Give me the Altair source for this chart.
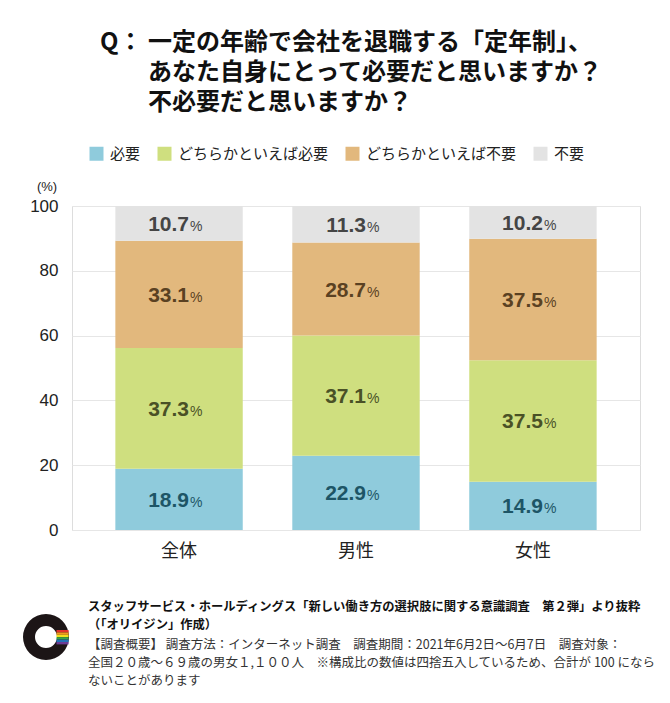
import altair as alt
import pandas as pd

JP = "Noto Sans CJK JP"
NUMF = "Liberation Sans"

groups = ["全体", "男性", "女性"]
categories = ["必要", "どちらかといえば必要", "どちらかといえば不要", "不要"]
need = [18.9, 22.9, 14.9]
rather_need = [37.3, 37.1, 37.5]
rather_unneeded = [33.1, 28.7, 37.5]
unneeded = [10.7, 11.3, 10.2]
bar_colors = ["#8fcbdc", "#cfdf7f", "#e2b87d", "#e3e3e3"]
label_colors = ["#1d5566", "#4a5126", "#5a4122", "#454545"]
y_ticks = [0, 20, 40, 60, 80, 100]

title_q = "Q："
title_lines = [
    "一定の年齢で会社を退職する「定年制」、",
    "あなた自身にとって必要だと思いますか？",
    "不必要だと思いますか？",
]
footer_bold = [
    "スタッフサービス・ホールディングス「新しい働き方の選択肢に関する意識調査　第２弾」より抜粋",
    "（「オリイジン」作成）",
]
footer_lines = [
    "【調査概要】 調査方法：インターネット調査　調査期間：2021年6月2日～6月7日　調査対象：",
    "全国２０歳～６９歳の男女１,１００人　※構成比の数値は四捨五入しているため、合計が 100 になら",
    "ないことがあります",
]
rainbow = ["#e3322b", "#f29a1f", "#f2df1d", "#38a547", "#2170b7", "#6b3b93"]

series = [need, rather_need, rather_unneeded, unneeded]
rows = []
for gi, g in enumerate(groups):
    start = 0.0
    for ci, c in enumerate(categories):
        v = series[ci][gi]
        rows.append({
            "group": g, "cat": c, "order": ci, "value": v,
            "start": start, "end": start + v, "mid": start + v / 2,
            "num": f"{v:.1f}", "tc": label_colors[ci],
        })
        start += v
df = pd.DataFrame(rows)

W, H = 568, 324

xenc = alt.X("group:N", sort=groups,
             scale=alt.Scale(paddingInner=0.28, paddingOuter=0.245),
             axis=alt.Axis(title=None, labelAngle=0, labelFont=JP, labelFontSize=18,
                           labelColor="#222", labelPadding=12, ticks=False,
                           domain=False, grid=False))

base = alt.Chart(df)
bars = base.mark_bar(clip=True).encode(
    x=xenc,
    y=alt.Y("start:Q", scale=alt.Scale(domain=[0, 100], nice=False, clamp=True),
            axis=alt.Axis(values=y_ticks, title=None, labelFont=NUMF, labelFontSize=17,
                          labelColor="#222", labelPadding=14, ticks=False, domain=False,
                          gridColor="#e6e6e6", gridWidth=1)),
    y2="end:Q",
    color=alt.Color("cat:N", scale=alt.Scale(domain=categories, range=bar_colors),
                    legend=alt.Legend(orient="none", legendX=17, legendY=-60,
                                      direction="horizontal", title=None,
                                      symbolType="square", symbolSize=196,
                                      symbolStrokeWidth=0, symbolOpacity=1,
                                      labelFont=JP, labelFontSize=15, labelColor="#222",
                                      labelOffset=6, columnPadding=16)),
    order="order:Q",
)

nums = base.mark_text(font=NUMF, fontWeight="bold", fontSize=21, align="right",
                      baseline="alphabetic", dx=10, dy=7.5).encode(
    x=alt.X("group:N", sort=groups), y="mid:Q", text="num:N",
    color=alt.Color("tc:N", scale=None))
pcts = base.mark_text(font=NUMF, fontSize=14, align="left",
                      baseline="alphabetic", dx=11, dy=7.5).encode(
    x=alt.X("group:N", sort=groups), y="mid:Q", text=alt.value("%"),
    color=alt.Color("tc:N", scale=None))


def txt(s, x, y, size, weight="normal", align="left", font=JP, color="#111"):
    return alt.Chart(pd.DataFrame({"t": [s]})).mark_text(
        font=font, fontSize=size, fontWeight=weight, align=align, baseline="middle",
        color=color).encode(x=alt.value(x), y=alt.value(y), text="t:N")


layers = [bars, nums, pcts]
layers.append(txt(title_q, 28, -163, 24, "bold"))
for i, line in enumerate(title_lines):
    layers.append(txt(line, 76, -163 + i * 30, 24, "bold"))
layers.append(txt("(%)", -25, -19, 13, align="center", font=NUMF, color="#222"))
for i, line in enumerate(footer_bold):
    layers.append(txt(line, 16, 401 + i * 18, 12.3, "bold"))
for i, line in enumerate(footer_lines):
    layers.append(txt(line, 16, 439 + i * 18, 12.5, "normal", color="#333"))

# logo
cx, cy = -26, 431
logo = alt.Chart(pd.DataFrame({"v": [1]})).mark_arc(
    x=cx, y=cy, innerRadius=11, outerRadius=23, color="#1c1516").encode(
    theta=alt.Theta("v:Q"))
layers.append(logo)
for i, col in enumerate(rainbow):
    y0 = cy - 7 + i * 2.4
    layers.append(alt.Chart(pd.DataFrame({"v": [1]})).mark_rect(color=col).encode(
        x=alt.value(cx + 10.5), x2=alt.value(cx + 22.6),
        y=alt.value(y0), y2=alt.value(y0 + 2.4)))

chart = alt.layer(*layers).properties(
    width=W, height=H,
    padding={"left": 64, "top": 198, "right": 20, "bottom": 160},
    autosize=alt.AutoSizeParams(type="none"),
).configure_view(stroke="#e6e6e6", strokeWidth=1).configure(background="white")

chart.save("out.html", embed_options={"renderer": "svg", "actions": False})
